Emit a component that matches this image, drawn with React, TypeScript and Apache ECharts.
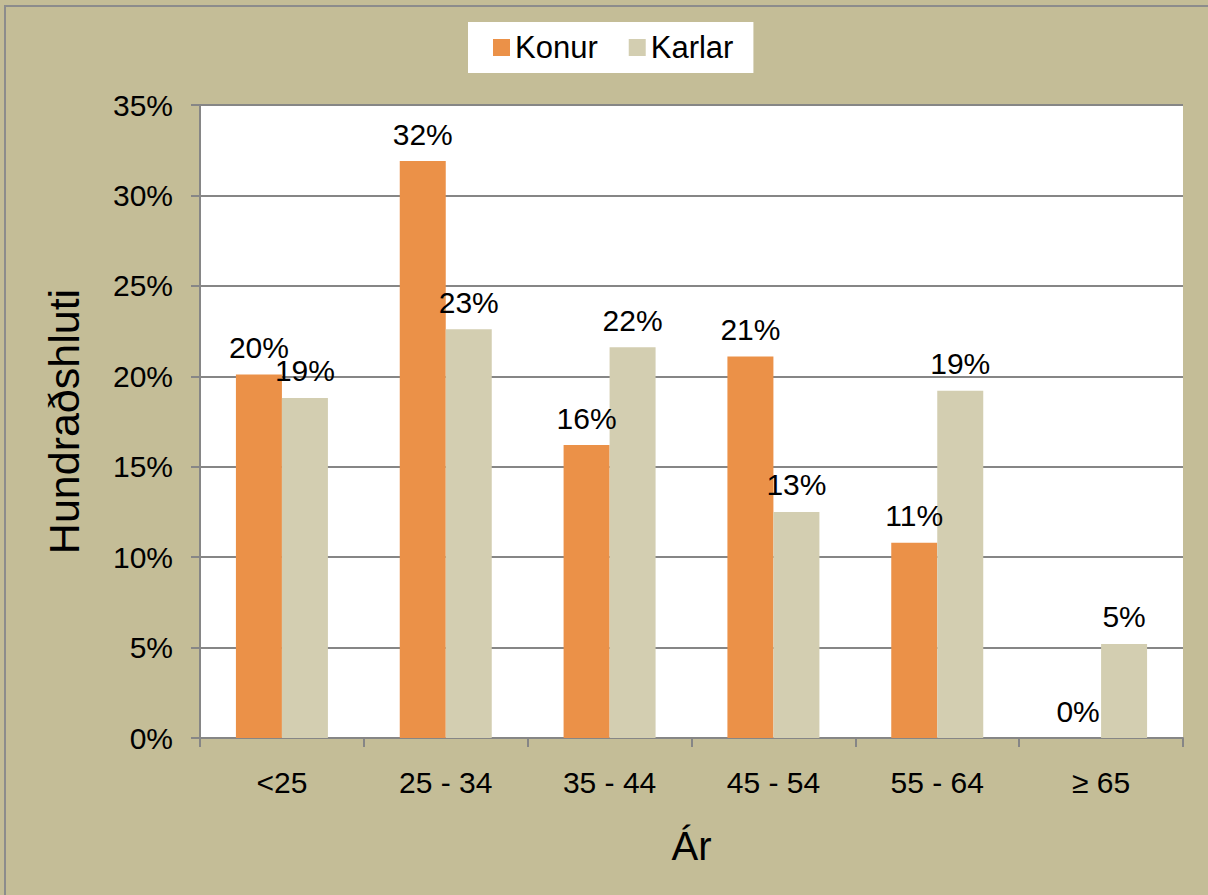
import React, { useEffect, useRef } from "react";
import * as echarts from "echarts";

const categories = ["<25", "25 - 34", "35 - 44", "45 - 54", "55 - 64", "≥ 65"];
const konur = [20.1, 31.9, 16.2, 21.1, 10.8, 0];
const karlar = [18.8, 22.6, 21.6, 12.5, 19.2, 5.2];
const yTicks = [0, 5, 10, 15, 20, 25, 30, 35];

const FONT = "Liberation Sans, Arial, sans-serif";

export default function App() {
  const ref = useRef<HTMLDivElement>(null);
  useEffect(() => {
    document.body.style.margin = "0";
    const chart = echarts.init(ref.current!, null, { renderer: "svg" });
    const labelCfg = {
      show: true,
      position: "top",
      distance: 12,
      fontSize: 30,
      color: "#000",
      fontFamily: FONT,
      formatter: (p: any) => Math.round(p.value) + "%",
    };
    chart.setOption({
      animation: false,
      backgroundColor: "#C4BD97",
      textStyle: { fontFamily: FONT },
      graphic: [
        {
          type: "rect",
          shape: { x: 5, y: 6, width: 1400, height: 1000 },
          style: { fill: "none", stroke: "#8C8C8C", lineWidth: 2 },
          silent: true,
        },
      ],
      legend: {
        left: 468,
        top: 22,
        backgroundColor: "#fff",
        padding: [10, 20, 10, 25],
        itemWidth: 17,
        itemHeight: 17,
        itemGap: 31,
        icon: "rect",
        textStyle: { fontSize: 31, color: "#000", fontFamily: FONT },
        data: ["Konur", "Karlar"],
      },
      grid: { left: 200, right: 25, top: 105, bottom: 157, backgroundColor: "#fff", show: true, borderWidth: 0 },
      xAxis: {
        type: "category",
        data: categories,
        name: "Ár",
        nameLocation: "middle",
        nameGap: 88,
        nameTextStyle: { fontSize: 40, color: "#000", fontFamily: FONT },
        axisLine: { lineStyle: { color: "#868686", width: 2 } },
        axisTick: { show: true, length: 9, lineStyle: { color: "#868686", width: 2 } },
        axisLabel: { fontSize: 30, color: "#000", margin: 29, fontFamily: FONT },
      },
      yAxis: {
        type: "value",
        min: 0,
        max: 35,
        interval: 5,
        name: "Hundraðshluti",
        nameLocation: "middle",
        nameGap: 115,
        nameTextStyle: { fontSize: 43, color: "#000", fontFamily: FONT },
        axisLine: { show: true, lineStyle: { color: "#868686", width: 2 } },
        axisTick: { show: true, length: 9, lineStyle: { color: "#868686", width: 2 } },
        splitLine: { show: true, lineStyle: { color: "#868686", width: 2 } },
        axisLabel: {
          fontSize: 30,
          color: "#000",
          margin: 27,
          fontFamily: FONT,
          formatter: (v: number) => (yTicks.includes(v) ? v + "%" : ""),
        },
      },
      series: [
        {
          name: "Konur",
          type: "bar",
          data: konur,
          barWidth: 46,
          barGap: "0%",
          itemStyle: { color: "#EB9148" },
          label: labelCfg,
        },
        {
          name: "Karlar",
          type: "bar",
          data: karlar,
          barWidth: 46,
          barGap: "0%",
          itemStyle: { color: "#D3CEB1" },
          label: labelCfg,
        },
      ],
    });
    return () => chart.dispose();
  }, []);
  return <div ref={ref} style={{ width: 1208, height: 895 }} />;
}
